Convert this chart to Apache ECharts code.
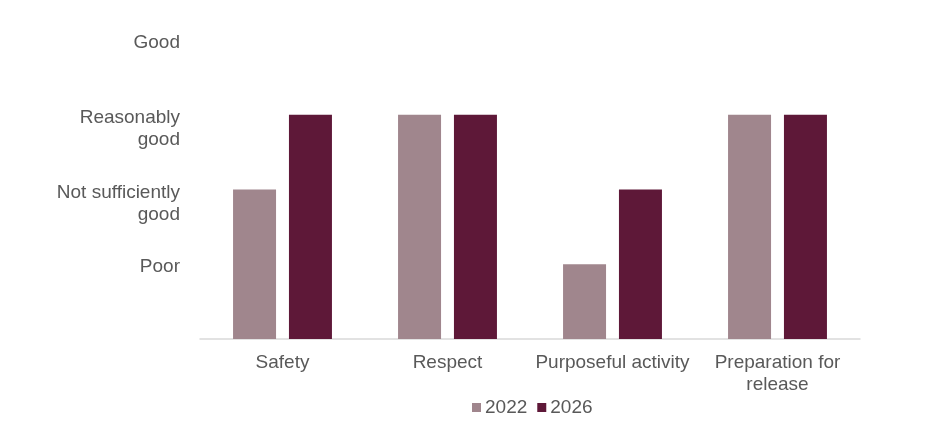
<!DOCTYPE html>
<html><head><meta charset="utf-8">
<script src="https://cdn.jsdelivr.net/npm/echarts@6/dist/echarts.min.js"></script>
<style>html,body{margin:0;padding:0;background:#fff}#c{width:948px;height:427px}</style>
</head><body><div id="c"></div>
<script>
const categories = ['Safety', 'Respect', 'Purposeful activity', 'Preparation for\nrelease'];
const values2022 = [2, 3, 1, 3];
const values2026 = [3, 3, 2, 3];
const ratingLabels = ['', 'Poor', 'Not sufficiently\ngood', 'Reasonably\ngood', 'Good'];
const seriesNames = ['2022', '2026'];
const colors = ['#A0868D', '#5E1838'];

const chart = echarts.init(document.getElementById('c'));
const font = 'Liberation Sans, Arial, sans-serif';
chart.setOption({
  animation: false,
  color: colors,
  grid: { left: 200, right: 88, top: 40, bottom: 88, containLabel: false },
  legend: {
    bottom: 5, left: 467, itemWidth: 9, itemHeight: 9, itemGap: 10,
    icon: 'rect',
    textStyle: { fontFamily: font, fontSize: 19, color: '#595959', padding: [0,0,0,-1] },
    data: seriesNames
  },
  xAxis: {
    type: 'category', data: categories,
    axisLine: { lineStyle: { color: '#D9D9D9', width: 1.5 } },
    axisTick: { show: false },
    axisLabel: { fontFamily: font, fontSize: 19, color: '#595959', margin: 13, lineHeight: 22, interval: 0 }
  },
  yAxis: {
    type: 'value', min: 0, max: 4, interval: 1,
    axisLine: { show: false }, axisTick: { show: false },
    splitLine: { show: false },
    axisLabel: {
      fontFamily: font, fontSize: 19, color: '#595959', margin: 20, align: 'right',
      rich: {
        s: { lineHeight: 6, fontSize: 6 },
        n: { fontFamily: font, fontSize: 19, color: '#595959', lineHeight: 22 }
      },
      formatter: v => {
        const t = ratingLabels[v] || '';
        if (!t) return '';
        const lines = t.split('\n');
        let out = ['{s| }'];
        if (lines.length > 1) out.push('{n| }');
        lines.forEach(l => out.push('{n|' + l + '}'));
        return out.join('\n');
      }
    }
  },
  series: [
    { name: seriesNames[0], type: 'bar', data: values2022, barWidth: 43, barGap: '30%' },
    { name: seriesNames[1], type: 'bar', data: values2026, barWidth: 43, barGap: '30%' }
  ]
});
</script></body></html>
